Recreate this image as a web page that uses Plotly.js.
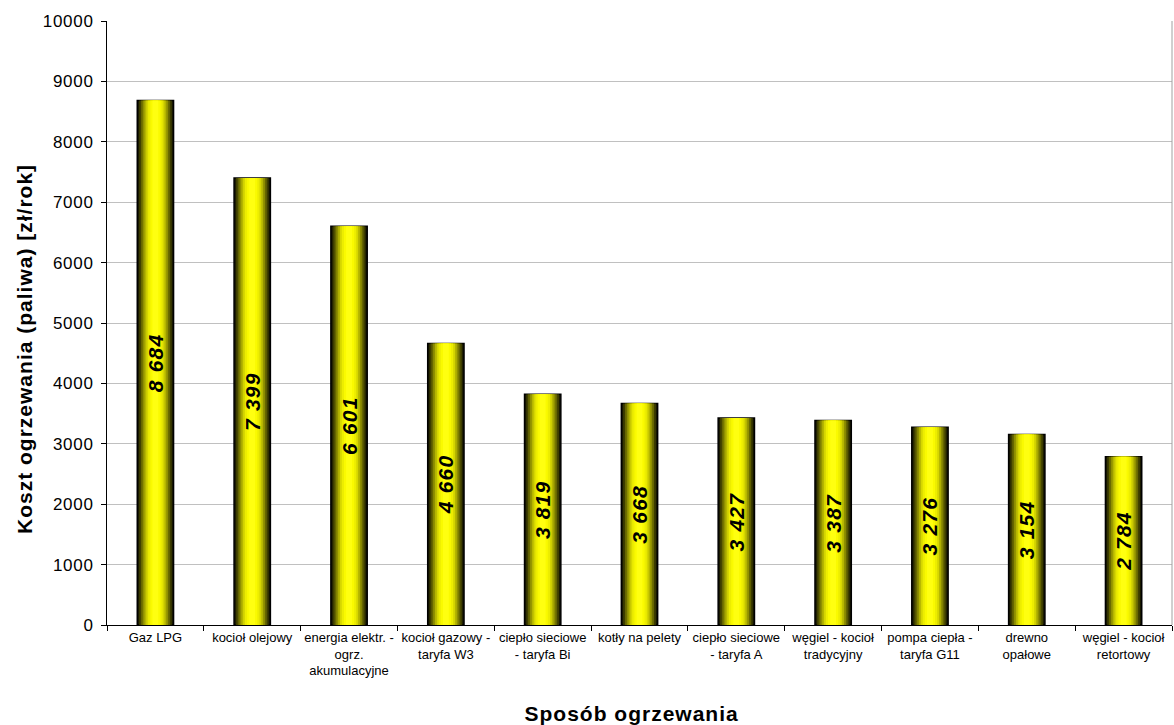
<!DOCTYPE html>
<html>
<head>
<meta charset="utf-8">
<script src="https://cdn.plot.ly/plotly-3.0.1.min.js"></script>
<style>
html,body{margin:0;padding:0;background:#fff;}
#chart{width:1174px;height:725px;}
#chart .annotation-text{letter-spacing:1px;}
#chart .bartext{letter-spacing:1.2px;}
#chart .ytick text{letter-spacing:0.7px;}
</style>
</head>
<body>
<div id="chart"></div>
<script>
const categories = [
  "Gaz LPG",
  "kocioł olejowy",
  "energia elektr. -<br>ogrz.<br>akumulacyjne",
  "kocioł gazowy -<br>taryfa W3",
  "ciepło sieciowe<br>- taryfa Bi",
  "kotły na pelety",
  "ciepło sieciowe<br>- taryfa A",
  "węgiel - kocioł<br>tradycyjny",
  "pompa ciepła -<br>taryfa G11",
  "drewno<br>opałowe",
  "węgiel - kocioł<br>retortowy"
];
const costs = [8684, 7399, 6601, 4660, 3819, 3668, 3427, 3387, 3276, 3154, 2784];
const yTicks = [0, 1000, 2000, 3000, 4000, 5000, 6000, 7000, 8000, 9000, 10000];
const xTitle = "Sposób ogrzewania";
const yTitle = "Koszt ogrzewania (paliwa) [zł/rok]";

const barW = 0.375;
// cylinder shading layers: [width fraction, colour]
const shades = [
  [1.00, "#1a1a00"], [0.90, "#3d3d00"], [0.80, "#666600"], [0.70, "#8f8f00"],
  [0.60, "#b5b500"], [0.50, "#d6d600"], [0.40, "#eded00"], [0.28, "#fafa00"], [0.16, "#ffff10"]
];
const traces = shades.map((s, i) => ({
  type: "bar", x: categories, y: costs, width: barW * s[0],
  marker: { color: s[1], line: { color: "#000", width: i === 0 ? 1.5 : 0 } },
  hoverinfo: "skip", showlegend: false
}));
traces.push({
  type: "bar", x: categories, y: costs, width: barW,
  marker: { color: "rgba(0,0,0,0)", line: { width: 0 } },
  texttemplate: "%{y:,}", textposition: "inside", insidetextanchor: "middle",
  textangle: -90, constraintext: "none",
  textfont: { family: "Liberation Sans, Arial, sans-serif", size: 21, color: "#000", weight: "bold", style: "italic" },
  showlegend: false
});

const layout = {
  width: 1174, height: 725,
  margin: { l: 107, r: 2, t: 21, b: 100 },
  barmode: "overlay",
  separators: ", ",
  paper_bgcolor: "#fff", plot_bgcolor: "#fff",
  font: { family: "Liberation Sans, Arial, sans-serif", color: "#000" },
  showlegend: false,
  xaxis: {
    type: "category", tickson: "boundaries", ticks: "outside", ticklen: 5, tickcolor: "#000",
    showline: true, linecolor: "#000", linewidth: 1, showgrid: false,
    tickfont: { size: 13 }, tickangle: 0,
    automargin: false
  },
  yaxis: {
    range: [0, 10000], tickvals: yTicks, ticktext: yTicks.map(String),
    ticks: "outside", ticklen: 5, tickcolor: "#000", ticklabelstandoff: 4,
    showline: true, linecolor: "#000", linewidth: 1,
    gridcolor: "#c0c0c0", gridwidth: 1, zeroline: false,
    tickfont: { size: 17 },
    automargin: false
  },
  annotations: [
    { text: xTitle, xref: "paper", yref: "paper", x: 0.493, y: -0.1457, xanchor: "center", yanchor: "middle",
      showarrow: false, font: { size: 21, weight: "bold" } },
    { text: yTitle, xref: "paper", yref: "paper", x: -0.077, y: 0.457, xanchor: "center", yanchor: "middle",
      textangle: -90, showarrow: false, font: { size: 21, weight: "bold" } }
  ],
  shapes: [
    { type: "line", xref: "paper", yref: "paper", x0: 1, x1: 1, y0: 0, y1: 1, line: { color: "#a0a0a0", width: 1 } }
  ]
};

Plotly.newPlot("chart", traces, layout, { displayModeBar: false, staticPlot: true });
</script>
</body>
</html>
